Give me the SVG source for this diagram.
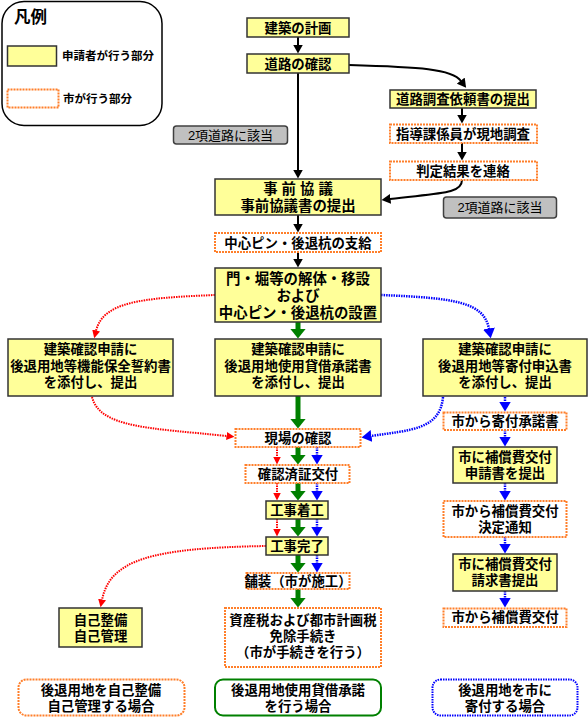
<svg xmlns="http://www.w3.org/2000/svg" width="588" height="717" viewBox="0 0 588 717">
<style>
text{font-family:"Liberation Sans","Noto Sans CJK JP",sans-serif;fill:#000}
.t{font-size:13.4px;font-weight:bold;text-anchor:middle;dominant-baseline:central}
.tb{font-size:14.4px;font-weight:bold;text-anchor:middle;dominant-baseline:central}
.tg{font-size:13px;text-anchor:middle;dominant-baseline:central}
.y{fill:#ffff99;stroke:#333;stroke-width:1.5}
.o{fill:#fff;stroke:#ff7f2a;stroke-width:2;stroke-dasharray:2 1}
.g{fill:#c0c0c0;stroke:#404040;stroke-width:1.5}
.kb{fill:none;stroke:#000;stroke-width:2}
.kg{fill:none;stroke:#008000;stroke-width:5}
.kr{fill:none;stroke:#ff0000;stroke-width:2;stroke-dasharray:1.5 1}
.kbl{fill:none;stroke:#0000ff;stroke-width:2.5;stroke-dasharray:1.5 1}
</style>
<defs>
<marker id="ab" markerUnits="userSpaceOnUse" markerWidth="10" markerHeight="10" refX="0.5" refY="5" orient="auto"><path d="M0,0 L9,5 L0,10 Z" fill="#000"/></marker>
<marker id="ag" markerUnits="userSpaceOnUse" markerWidth="11" markerHeight="17" refX="0.5" refY="8" orient="auto"><path d="M0,0 L10,8 L0,16 Z" fill="#008000"/></marker>
<marker id="ar" markerUnits="userSpaceOnUse" markerWidth="10" markerHeight="9" refX="0.5" refY="4" orient="auto"><path d="M0,0 L8,4 L0,8 Z" fill="#ff0000"/></marker>
<marker id="al" markerUnits="userSpaceOnUse" markerWidth="11" markerHeight="13" refX="0.5" refY="6" orient="auto"><path d="M0,0 L10,6 L0,12 Z" fill="#0000ff"/></marker>
</defs>
<rect width="588" height="717" fill="#fff"/>

<g id="legend">
<rect x="2" y="1.5" width="160" height="124" rx="22" fill="#fff" stroke="#000" stroke-width="1.5"/>
<text x="14" y="23" style="font-size:16.5px;font-weight:bold">凡例</text>
<rect class="y" x="7.5" y="46" width="49" height="20"/>
<text x="62" y="56" style="font-size:11.5px;font-weight:bold;dominant-baseline:central">申請者が行う部分</text>
<rect class="o" x="7.5" y="89.5" width="51" height="18"/>
<text x="63" y="99" style="font-size:11.5px;font-weight:bold;dominant-baseline:central">市が行う部分</text>
</g>

<g id="connectors">
<path class="kb" marker-end="url(#ab)" d="M298,37 V45"/>
<path class="kb" marker-end="url(#ab)" d="M298,73 V170"/>
<path class="kb" marker-end="url(#ab)" d="M349,65 C420,67 452,69 461,81"/>
<path class="kb" marker-end="url(#ab)" d="M462,108 V115"/>
<path class="kb" marker-end="url(#ab)" d="M462,143 V152"/>
<path class="kb" marker-end="url(#ab)" d="M462,180 C462,194 440,193 390,199"/>
<path class="kb" marker-end="url(#ab)" d="M298,215 V224"/>
<path class="kb" marker-end="url(#ab)" d="M298,252 V259"/>

<path class="kr" marker-end="url(#ar)" d="M215,295 C140,298 103,302 96,331"/>
<path class="kbl" marker-end="url(#al)" d="M381,295 C455,298 484,302 489,329"/>

<path class="kg" marker-end="url(#ag)" d="M298,322 V329"/>
<path class="kg" marker-end="url(#ag)" d="M298,396 V419"/>
<path class="kg" marker-end="url(#ag)" d="M298,447 V455"/>
<path class="kg" marker-end="url(#ag)" d="M298,483 V491"/>
<path class="kg" marker-end="url(#ag)" d="M298,519 V527"/>
<path class="kg" marker-end="url(#ag)" d="M298,555 V563"/>
<path class="kg" marker-end="url(#ag)" d="M298,589 V598"/>

<path class="kr" marker-end="url(#ar)" d="M92,397 C100,428 150,428 227,436"/>
<path class="kbl" marker-end="url(#al)" d="M443,397 C440,430 410,430 371,436"/>

<path class="kr" marker-end="url(#ar)" d="M277,447 V457"/>
<path class="kr" marker-end="url(#ar)" d="M277,483 V493"/>
<path class="kr" marker-end="url(#ar)" d="M277,519 V529"/>
<path class="kr" marker-end="url(#ar)" d="M266,546 C150,548 110,560 102,600"/>

<path class="kbl" marker-end="url(#al)" d="M317,447 V455"/>
<path class="kbl" marker-end="url(#al)" d="M317,483 V491"/>
<path class="kbl" marker-end="url(#al)" d="M317,519 V527"/>
<path class="kbl" marker-end="url(#al)" d="M317,555 V563"/>

<path class="kbl" marker-end="url(#al)" d="M505,397 V402"/>
<path class="kbl" marker-end="url(#al)" d="M505,430 V437"/>
<path class="kbl" marker-end="url(#al)" d="M505,483 V491"/>
<path class="kbl" marker-end="url(#al)" d="M505,537 V544"/>
<path class="kbl" marker-end="url(#al)" d="M505,591 V598"/>
</g>

<g id="n-plan"><rect class="y" x="247" y="18" width="102" height="19"/><text class="t" x="298" y="28">建築の計画</text></g>
<g id="n-road"><rect class="y" x="247" y="54" width="102" height="19"/><text class="t" x="298" y="64">道路の確認</text></g>
<g id="n-survey-req"><rect class="y" x="390" y="90" width="146" height="18"/><text class="t" x="463" y="99">道路調査依頼書の提出</text></g>
<g id="n-survey"><rect class="o" x="390" y="124.5" width="147" height="18.5"/><text class="t" x="463" y="134">指導課係員が現地調査</text></g>
<g id="n-result"><rect class="o" x="390" y="161.5" width="147" height="18.5"/><text class="t" x="463" y="171">判定結果を連絡</text></g>
<g id="n-2kou-1"><rect class="g" x="173.5" y="126" width="114" height="18" rx="3"/><text class="tg" x="230.5" y="135">2項道路に該当</text></g>
<g id="n-2kou-2"><rect class="g" x="443.5" y="197" width="113" height="21" rx="3"/><text class="tg" x="500" y="207.5">2項道路に該当</text></g>
<g id="n-prior"><rect class="y" x="215" y="179" width="166" height="36"/><text class="tb" x="298" y="189">事 前 協 議</text><text class="tb" x="298" y="206">事前協議書の提出</text></g>
<g id="n-pin-supply"><rect class="o" x="215" y="233" width="166" height="19"/><text class="t" x="298" y="243">中心ピン・後退杭の支給</text></g>
<g id="n-demolish"><rect class="y" x="215" y="268" width="166" height="54"/><text class="tb" x="298" y="279">門・堀等の解体・移設</text><text class="tb" x="298" y="296">および</text><text class="tb" x="298" y="313">中心ピン・後退杭の設置</text></g>

<g id="n-left-apply"><rect class="y" x="8" y="339" width="165" height="57"/><text class="t" x="90.5" y="349">建築確認申請に</text><text class="t" x="90.5" y="366">後退用地等機能保全誓約書</text><text class="t" x="90.5" y="382">を添付し、提出</text></g>
<g id="n-mid-apply"><rect class="y" x="215" y="339" width="166" height="57"/><text class="t" x="298" y="349">建築確認申請に</text><text class="t" x="298" y="366">後退用地使用貸借承諾書</text><text class="t" x="298" y="382">を添付し、提出</text></g>
<g id="n-right-apply"><rect class="y" x="423" y="339" width="164" height="57"/><text class="t" x="505" y="349">建築確認申請に</text><text class="t" x="505" y="366">後退用地等寄付申込書</text><text class="t" x="505" y="382">を添付し、提出</text></g>

<g id="n-site"><rect class="o" x="235.5" y="429" width="125" height="18"/><text class="t" x="298" y="438">現場の確認</text></g>
<g id="n-cert"><rect class="o" x="245.5" y="465" width="104" height="18"/><text class="t" x="298" y="474">確認済証交付</text></g>
<g id="n-start"><rect class="y" x="266" y="501" width="62" height="18"/><text class="t" x="297" y="510">工事着工</text></g>
<g id="n-done"><rect class="y" x="266" y="537" width="62" height="18"/><text class="t" x="297" y="546">工事完了</text></g>
<g id="n-pave"><rect class="o" x="246.5" y="573" width="103" height="16"/><text class="t" x="298" y="581">舗装（市が施工）</text></g>
<g id="n-tax"><rect class="o" x="225" y="608" width="156" height="59"/><text class="t" x="303" y="620">資産税および都市計画税</text><text class="t" x="303" y="636">免除手続き</text><text class="t" x="303" y="652">（市が手続きを行う）</text></g>
<g id="n-self"><rect class="y" x="59" y="608" width="83" height="39"/><text class="t" x="100.5" y="620">自己整備</text><text class="t" x="100.5" y="636">自己管理</text></g>

<g id="n-donate-ok"><rect class="o" x="443.5" y="412.5" width="123" height="17.5"/><text class="t" x="505" y="421">市から寄付承諾書</text></g>
<g id="n-comp-apply"><rect class="y" x="453" y="447" width="104" height="36"/><text class="t" x="505" y="457">市に補償費交付</text><text class="t" x="505" y="473">申請書を提出</text></g>
<g id="n-comp-decide"><rect class="o" x="443.5" y="501" width="123" height="36"/><text class="t" x="505" y="511">市から補償費交付</text><text class="t" x="505" y="527">決定通知</text></g>
<g id="n-comp-claim"><rect class="y" x="453" y="554" width="104" height="37"/><text class="t" x="505" y="564">市に補償費交付</text><text class="t" x="505" y="580">請求書提出</text></g>
<g id="n-comp-pay"><rect class="o" x="443.5" y="608.5" width="123" height="18.5"/><text class="t" x="505" y="617">市から補償費交付</text></g>

<g id="case-self"><rect x="18.5" y="679.5" width="166" height="36" rx="8" fill="#fff" stroke="#ff7f2a" stroke-width="2" stroke-dasharray="2 1"/><text class="t" x="101" y="690">後退用地を自己整備</text><text class="t" x="101" y="706">自己管理する場合</text></g>
<g id="case-lend"><rect x="215" y="679.5" width="166" height="36" rx="8" fill="#fff" stroke="#008000" stroke-width="2"/><text class="t" x="298" y="690">後退用地使用貸借承諾</text><text class="t" x="298" y="706">を行う場合</text></g>
<g id="case-donate"><rect x="432.5" y="679.5" width="145" height="36" rx="8" fill="#fff" stroke="#0000ff" stroke-width="2" stroke-dasharray="1.5 1"/><text class="t" x="505" y="690">後退用地を市に</text><text class="t" x="505" y="706">寄付する場合</text></g>
</svg>
